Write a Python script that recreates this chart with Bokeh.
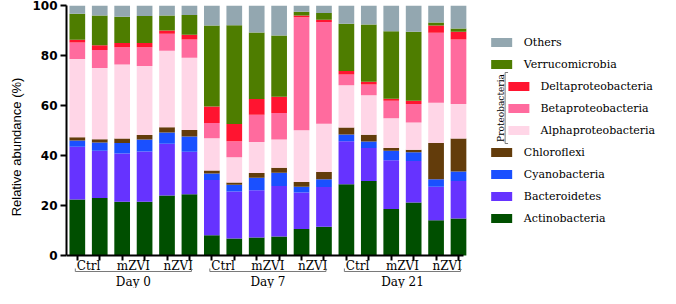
import numpy as np
from bokeh.plotting import figure
from bokeh.models import Range1d, FixedTicker, ColumnDataSource, Title
from bokeh.core.properties import value
from bokeh.embed import file_html
from bokeh.resources import INLINE

days = ["Day 0", "Day 7", "Day 21"]
treatments = ["Ctrl", "mZVI", "nZVI"]
reps_per_treatment = 2

taxa = ["Actinobacteria", "Bacteroidetes", "Cyanobacteria", "Chloroflexi",
        "Alphaproteobacteria", "Betaproteobacteria", "Deltaproteobacteria",
        "Verrucomicrobia", "Others"]
proteo = ["Alphaproteobacteria", "Betaproteobacteria", "Deltaproteobacteria"]

actinobacteria = [22.4, 23.0, 21.5, 21.5, 24.0, 24.5, 8.1, 6.8, 7.2, 7.6, 10.6, 11.5, 28.5, 29.8, 18.6, 21.2, 14.1, 14.8]
bacteroidetes = [21.1, 18.9, 19.3, 20.1, 20.7, 17.0, 22.1, 18.8, 18.9, 20.2, 14.6, 15.9, 17.2, 13.2, 19.5, 16.6, 13.4, 15.0]
cyanobacteria = [2.5, 3.3, 4.2, 4.8, 4.5, 6.1, 2.6, 2.7, 5.0, 5.3, 2.3, 3.1, 2.7, 2.6, 3.8, 3.5, 3.0, 3.8]
chloroflexi = [1.3, 1.3, 1.8, 1.8, 2.1, 2.6, 1.2, 0.9, 1.9, 2.0, 1.9, 2.9, 2.8, 2.7, 1.1, 1.0, 14.5, 13.2]
alphaproteobacteria = [31.3, 28.5, 29.6, 27.6, 30.6, 28.9, 12.9, 10.1, 12.4, 11.3, 20.7, 19.3, 16.9, 15.8, 11.9, 10.9, 16.1, 13.8]
betaproteobacteria = [6.6, 7.2, 6.9, 7.5, 6.8, 7.3, 6.1, 6.4, 10.9, 10.6, 45.2, 40.7, 4.3, 4.3, 7.0, 7.4, 28.0, 25.8]
deltaproteobacteria = [1.1, 1.9, 1.7, 1.7, 1.3, 1.9, 6.6, 6.9, 6.3, 6.5, 0.7, 0.9, 1.4, 1.1, 0.8, 1.3, 2.9, 3.1]
verrucomicrobia = [10.4, 11.9, 10.5, 10.8, 6.0, 7.9, 32.4, 39.5, 26.6, 24.5, 1.5, 2.7, 18.9, 22.9, 27.0, 27.6, 1.2, 1.3]
others = [3.3, 4.0, 4.5, 4.2, 4.0, 3.8, 8.0, 7.9, 10.8, 12.0, 2.5, 3.0, 7.3, 7.6, 10.3, 10.5, 6.8, 9.2]

colors = ["#004f00", "#6633ff", "#1a50ff", "#633c0b", "#ffd6e7",
          "#ff6b9e", "#ff1430", "#4e7d00", "#93a7b0"]

y_ticks = [0, 20, 40, 60, 80, 100]

n_bars = len(actinobacteria)
xs = list(range(n_bars))
src = ColumnDataSource(dict(
    x=xs,
    Actinobacteria=actinobacteria, Bacteroidetes=bacteroidetes,
    Cyanobacteria=cyanobacteria, Chloroflexi=chloroflexi,
    Alphaproteobacteria=alphaproteobacteria, Betaproteobacteria=betaproteobacteria,
    Deltaproteobacteria=deltaproteobacteria, Verrucomicrobia=verrucomicrobia,
    Others=others))

# ---- layout geometry (canvas pixels) ----
W, H = 660, 288
LEFT, TOP = 56, 5
ZERO = 255                     # canvas y of value 0
BAR_STEP = 22.8                # px between bar centres
FIRST_BAR = 11                 # px from frame left to first bar centre
ppu = (ZERO - TOP) / 100.0     # px per percent
y0 = -(H - ZERO) / ppu
x0 = -FIRST_BAR / BAR_STEP
x1 = x0 + (W - LEFT) / BAR_STEP
AXIS_END_PX = 460


def dx(cx):
    return x0 + (cx - LEFT) / BAR_STEP


def dy(cy):
    return (ZERO - cy) / ppu


p = figure(width=W, height=H, x_range=Range1d(x0, x1), y_range=Range1d(y0, 100),
           output_backend="svg", toolbar_location=None, title=None,
           min_border_left=LEFT, min_border_right=0, min_border_top=TOP, min_border_bottom=0)
p.vbar_stack(taxa, x="x", width=0.7, source=src, fill_color=colors, line_color=None)

p.grid.visible = False
p.outline_line_color = None

# x axis drawn at value 0
p.xaxis.fixed_location = 0
p.xaxis.bounds = (x0, dx(AXIS_END_PX))
p.xaxis.ticker = FixedTicker(ticks=xs)
p.xaxis.major_label_overrides = {i: "" for i in xs}
p.xaxis.major_label_text_font_size = "1px"
p.xaxis.major_label_standoff = 0
p.xaxis.axis_line_width = 2
p.xaxis.major_tick_line_width = 2
p.xaxis.major_tick_out = 0
p.xaxis.major_tick_in = -5
p.xaxis.minor_tick_line_color = None

p.yaxis.bounds = (0, 100)
p.yaxis.ticker = FixedTicker(ticks=y_ticks)
p.yaxis.axis_line_width = 2
p.yaxis.major_tick_line_width = 2
p.yaxis.major_tick_out = 6
p.yaxis.major_tick_in = 0
p.yaxis.minor_tick_line_color = None
p.yaxis.major_label_standoff = 3
p.yaxis.major_label_text_font = "DejaVu Sans"
p.yaxis.major_label_text_font_style = "bold"
p.yaxis.major_label_text_font_size = "12px"
p.yaxis.major_label_text_color = "black"

p.add_layout(Title(text="Relative abundance (%)", align="center", offset=6, standoff=12,
                   text_font="Liberation Sans", text_font_size="13px",
                   text_font_style="normal", text_color="black"), "left")

# ---- category labels, brackets and day labels ----
group_size = len(treatments) * reps_per_treatment
tr_x, tr_t, day_x = [], [], []
for g, day in enumerate(days):
    for t, tr in enumerate(treatments):
        tr_x.append(g * group_size + t * reps_per_treatment + (reps_per_treatment - 1) / 2)
        tr_t.append(tr)
    day_x.append(g * group_size + (group_size - 1) / 2)

p.text(x=tr_x, y=[dy(ZERO + 10)] * len(tr_x), text=tr_t, text_font=value("DejaVu Serif"),
       text_font_size="12px", text_align="center", text_baseline="middle", text_color="black")
p.text(x=day_x, y=[dy(ZERO + 26)] * len(days), text=days, text_font=value("DejaVu Serif"),
       text_font_size="12px", text_align="center", text_baseline="middle", text_color="black")

br_lo = [g * group_size - 0.09 for g in range(len(days))]
br_hi = [g * group_size + group_size - 1 + 0.09 for g in range(len(days))]
yb, yh = dy(ZERO + 16), dy(ZERO + 13)
p.segment(x0=br_lo, y0=[yb] * 3, x1=br_hi, y1=[yb] * 3, line_color="#7a7a7a", line_width=1)
p.segment(x0=br_lo + br_hi, y0=[yb] * 6, x1=br_lo + br_hi, y1=[yh] * 6,
          line_color="#7a7a7a", line_width=1)

# ---- legend ----
order = list(reversed(taxa))
col_of = dict(zip(taxa, colors))
row_y = [42 + 22 * i for i in range(len(order))]
box_cx = [dx(516 if n in proteo else 498.5) for n in order]
txt_cx = [dx(538 if n in proteo else 521) for n in order]
p.rect(x=box_cx, y=[dy(v) for v in row_y], width=21, height=9, width_units="screen",
       height_units="screen", fill_color=[col_of[n] for n in order], line_color=None)
p.text(x=txt_cx, y=[dy(v) for v in row_y], text=order, text_font=value("DejaVu Serif"),
       text_font_size="11px", text_align="left", text_baseline="middle", text_color="black")

p_rows = [row_y[order.index(n)] for n in proteo]
top_y, bot_y = min(p_rows) - 14, max(p_rows) + 13
p.line(x=[dx(505), dx(502), dx(502), dx(505)], y=[dy(top_y), dy(top_y), dy(bot_y), dy(bot_y)],
       line_color="#7a7a7a", line_width=1)
p.text(x=[dx(497.5)], y=[dy((top_y + bot_y) / 2)], text=["Proteobacteria"], angle=np.pi / 2,
       text_font=value("DejaVu Serif"), text_font_size="9px",
       text_align="center", text_baseline="middle", text_color="black")

open("out.html", "w").write(file_html(p, INLINE))
